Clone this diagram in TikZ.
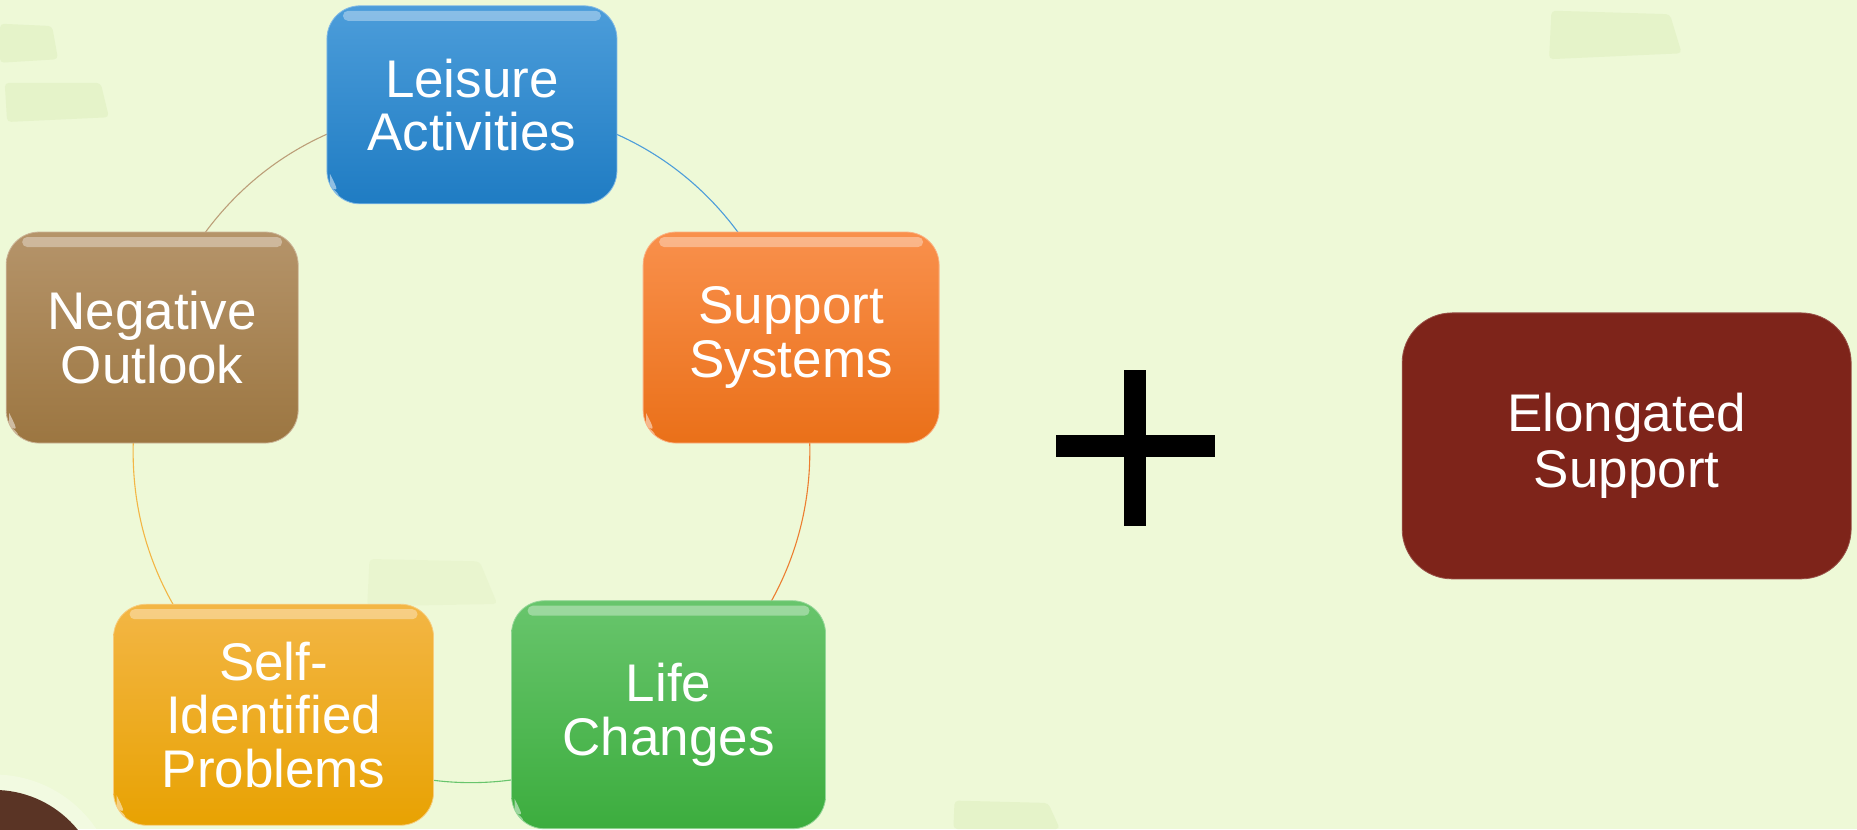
\documentclass[tikz,border=0pt]{standalone}
\usepackage{fontspec}
\setmainfont{Liberation Sans}
\pgfdeclarelayer{bg}
\pgfdeclarelayer{lines}
\pgfsetlayers{bg,lines,main}
\definecolor{bgc}{HTML}{EEF9D7}
\definecolor{smudge}{HTML}{E5F3C9}
\definecolor{blueT}{HTML}{4C9DDA}
\definecolor{blueB}{HTML}{1F7CC3}
\definecolor{orT}{HTML}{F9904C}
\definecolor{orB}{HTML}{EA7019}
\definecolor{brT}{HTML}{B5946A}
\definecolor{brB}{HTML}{9C7641}
\definecolor{yeT}{HTML}{F3B645}
\definecolor{yeB}{HTML}{E8A202}
\definecolor{grT}{HTML}{68C56C}
\definecolor{grB}{HTML}{3CAD3E}
\definecolor{maroon}{HTML}{7E241A}
\definecolor{blobc}{HTML}{5A3425}
\tikzset{
  ringbox/.style={rounded corners=33pt, align=center, text=white,
    font=\fontsize{53}{53.5}\selectfont, inner sep=0pt,
    path picture={
      \fill[white,opacity=.35,rounded corners=5pt]
        ([xshift=16pt,yshift=-5pt]path picture bounding box.north west) rectangle
        ([xshift=-16pt,yshift=-15pt]path picture bounding box.north east);
      \fill[white,opacity=.5]
        ([xshift=3pt,yshift=30pt]path picture bounding box.south west)
        .. controls ([xshift=3pt,yshift=3pt]path picture bounding box.south west) ..
        ([xshift=30pt,yshift=3pt]path picture bounding box.south west)
        .. controls ([xshift=12pt,yshift=12pt]path picture bounding box.south west) ..
        ([xshift=3pt,yshift=30pt]path picture bounding box.south west);
    }},
  ringline/.style={line width=1.1pt},
}
\begin{document}
\begin{tikzpicture}[x=1.1843pt,y=-1.1843pt]
\begin{pgfonlayer}{bg}
  \fill[bgc] (0,0) rectangle (1568,700);
  \begin{scope}
    \clip (0,0) rectangle (1568,700);
    \fill[smudge,rounded corners=4pt] (0,20) -- (44,22) -- (49,50) -- (0,53) -- cycle;
    \fill[smudge,rounded corners=4pt] (4,70) -- (85,70) -- (92,99) -- (6,103) -- cycle;
    \fill[smudge,rounded corners=4pt] (1310,9) -- (1410,12) -- (1420,45) -- (1308,50) -- cycle;
    \fill[smudge,opacity=.5,rounded corners=4pt] (312,472) -- (405,474) -- (420,510) -- (310,512) -- cycle;
    \fill[smudge,rounded corners=4pt] (806,676) -- (885,678) -- (895,700) -- (805,700) -- cycle;
    \fill[white,opacity=.25] (-5,758) circle (104);
    \fill[blobc] (-5,758) circle (91);
  \end{scope}
\end{pgfonlayer}
\useasboundingbox (0,0) rectangle (1568,700);

\node[ringbox, top color=blueT, bottom color=blueB, draw=blueT!70!white, line width=0.8pt,
  minimum width=290pt, minimum height=198pt] (lei) at (398.5,88.5) {Leisure\\Activities};
\node[ringbox, top color=orT, bottom color=orB, draw=orT!70!white, line width=0.8pt,
  minimum width=296pt, minimum height=211pt] (sup) at (668,285) {Support\\Systems};
\node[ringbox, top color=grT, bottom color=grB, draw=grT!70!white, line width=0.8pt,
  minimum width=314pt, minimum height=228pt] (lif) at (564.5,603.5) {Life\\Changes};
\node[ringbox, top color=yeT, bottom color=yeB, draw=yeT!70!white, line width=0.8pt,
  minimum width=320pt, minimum height=221pt] (slf) at (231,603.5) {Self-\\Identified\\Problems};
\node[ringbox, top color=brT, bottom color=brB, draw=brT!70!white, line width=0.8pt,
  minimum width=292pt, minimum height=211pt] (neg) at (128.5,285) {Negative\\Outlook};

\node[rounded corners=50pt, fill=maroon, draw=maroon!80!white, line width=0.8pt,
  minimum width=449pt, minimum height=266pt, align=center, text=white,
  font=\fontsize{53}{56}\selectfont] (elo) at (1373.5,376.5) {Elongated\\Support};

\begin{pgfonlayer}{lines}
  \draw[ringline, blueT] (lei.center) to[bend left=36] (sup.center);
  \draw[ringline, orB!90!white] (sup.center) to[bend left=36] (lif.center);
  \draw[ringline, grT] (lif.center) to[bend left=36] (slf.center);
  \draw[ringline, yeT] (slf.center) to[bend left=36] (neg.center);
  \draw[ringline, brT!90!white] (neg.center) to[bend left=36] (lei.center);
\end{pgfonlayer}

% plus sign
\fill[black] (949,312) rectangle (968,444);
\fill[black] (892,367) rectangle (1026,386);
\end{tikzpicture}
\end{document}
